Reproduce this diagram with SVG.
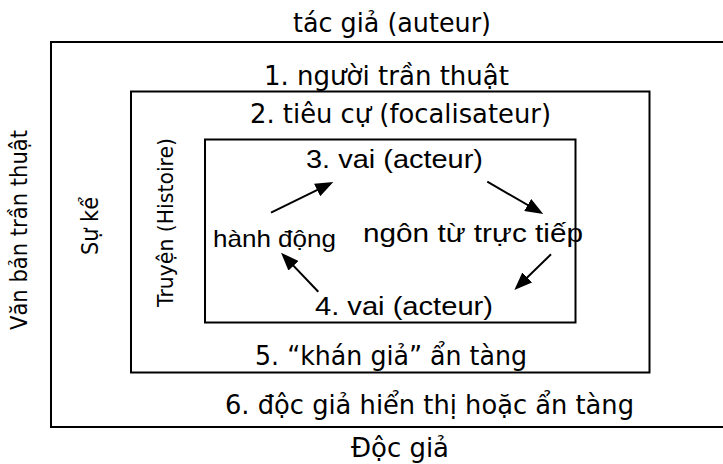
<svg xmlns="http://www.w3.org/2000/svg" width="723" height="464" viewBox="0 0 723 464">
  <style>
    .frame { fill: none; stroke: #000; stroke-width: 2; }
    .t { font-family: "DejaVu Sans", Verdana, sans-serif; font-size: 27px; fill: #000; }
    .a { font-family: "Liberation Sans", Arial, sans-serif; font-size: 25px; fill: #000; }
    .v { font-family: "DejaVu Sans", Verdana, sans-serif; font-size: 23px; fill: #000; }
    .arrow { fill: none; stroke: #000; stroke-width: 2; marker-end: url(#head); }
  </style>
  <defs>
    <marker id="head" markerUnits="strokeWidth" markerWidth="9" markerHeight="7" refX="7" refY="3.5" orient="auto">
      <path d="M0,0 L9,3.5 L0,7 z" fill="#000"/>
    </marker>
  </defs>
  <rect width="723" height="464" fill="#fff"/>

  <!-- outer frame: narrated text -->
  <g id="narrative-text">
    <rect class="frame" x="51" y="42" width="690" height="385"/>
    <text class="t" x="293" y="32" textLength="198" lengthAdjust="spacingAndGlyphs">tác giả (auteur)</text>
    <text class="t" x="225" y="414" textLength="409" lengthAdjust="spacingAndGlyphs">6. độc giả hiển thị hoặc ẩn tàng</text>
    <text class="t" x="351" y="457" textLength="98" lengthAdjust="spacingAndGlyphs">Độc giả</text>
    <text class="v" transform="translate(27,330) rotate(-90)" textLength="200" lengthAdjust="spacingAndGlyphs">Văn bản trần thuật</text>
  </g>

  <!-- middle frame: narration -->
  <g id="narration">
    <rect class="frame" x="131" y="91.5" width="518.5" height="281"/>
    <text class="t" x="264" y="85" textLength="245" lengthAdjust="spacingAndGlyphs">1. người trần thuật</text>
    <text class="t" x="250" y="123" textLength="301" lengthAdjust="spacingAndGlyphs">2. tiêu cự (focalisateur)</text>
    <text class="t" x="255" y="365" textLength="272" lengthAdjust="spacingAndGlyphs">5. “khán giả” ẩn tàng</text>
    <text class="v" transform="translate(98,255) rotate(-90)" textLength="58" lengthAdjust="spacingAndGlyphs">Sự kể</text>
  </g>

  <!-- inner frame: story -->
  <g id="story">
    <rect class="frame" x="205" y="139.5" width="370.5" height="183"/>
    <text class="v" style="font-size:22px" transform="translate(173,307) rotate(-90)" textLength="169" lengthAdjust="spacingAndGlyphs">Truyện (Histoire)</text>
  </g>

  <g id="actor-3">
    <text class="a" x="306" y="168" textLength="177" lengthAdjust="spacingAndGlyphs">3. vai (acteur)</text>
  </g>
  <g id="action">
    <text class="a" style="font-size:24px" x="213" y="247" textLength="123" lengthAdjust="spacingAndGlyphs">hành động</text>
  </g>
  <g id="direct-speech">
    <text class="a" x="363" y="242" textLength="220" lengthAdjust="spacingAndGlyphs">ngôn từ trực tiếp</text>
  </g>
  <g id="actor-4">
    <text class="a" x="315" y="315" textLength="178" lengthAdjust="spacingAndGlyphs">4. vai (acteur)</text>
  </g>

  <!-- connectors -->
  <g id="connectors">
    <line class="arrow" x1="271" y1="212.7" x2="329.7" y2="183.8"/>
    <line class="arrow" x1="487.3" y1="181.7" x2="539.8" y2="212"/>
    <line class="arrow" x1="551" y1="254.3" x2="517.2" y2="287.2"/>
    <line class="arrow" x1="318.3" y1="291.7" x2="283.8" y2="255.6"/>
  </g>
</svg>
